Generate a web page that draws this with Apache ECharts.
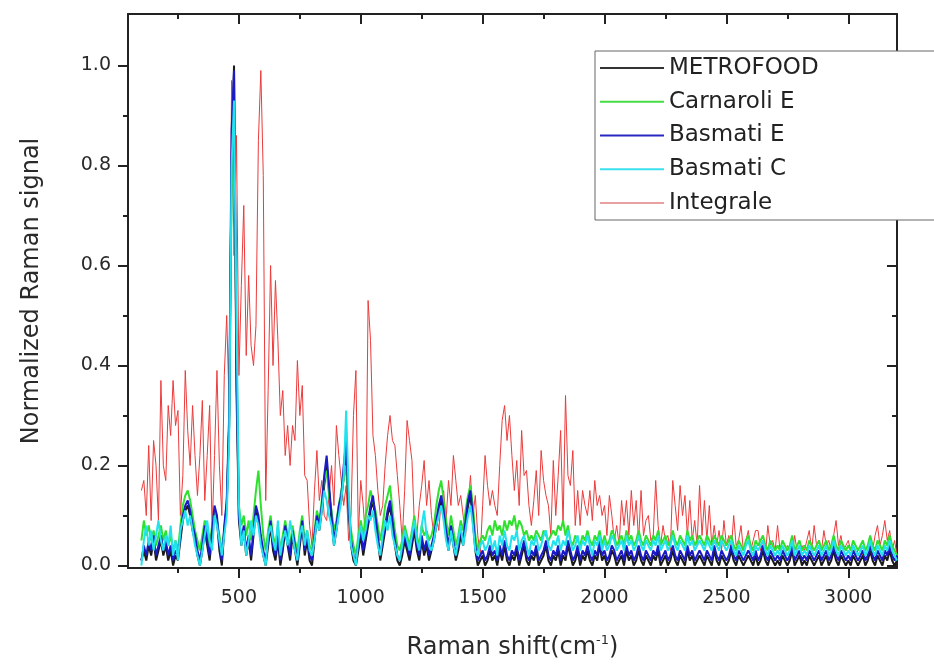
<!DOCTYPE html>
<html><head><meta charset="utf-8">
<script src="https://cdn.jsdelivr.net/npm/echarts@6/dist/echarts.min.js"></script>
<style>html,body{margin:0;padding:0;background:#fff}#c{width:934px;height:664px}</style>
</head><body><div id="c"></div>
<script>
// Raman shift grid (cm-1): 100 .. 3200, sampling step 10
const shiftStart = 100, shiftStep = 10, shiftCount = 311;
const shift = [];
for (let i = 0; i < shiftCount; i++) shift.push(shiftStart + shiftStep * i);

const seriesNames = ['METROFOOD', 'Carnaroli E', 'Basmati E', 'Basmati C', 'Integrale'];
const xMajorTicks = [500, 1000, 1500, 2000, 2500, 3000];
const xMinorTicks = [250, 750, 1250, 1750, 2250, 2750];
const yMajorTicks = [0, 0.2, 0.4, 0.6, 0.8, 1.0];
const yMinorTicks = [0.1, 0.3, 0.5, 0.7, 0.9];

const integrale = [
0.15,0.17,0.10,0.24,0.09,0.25,0.20,0.09,0.37,0.20,
0.17,0.32,0.26,0.37,0.28,0.31,0.10,0.18,0.39,0.27,
0.20,0.32,0.22,0.14,0.22,0.33,0.13,0.22,0.32,0.07,
0.22,0.39,0.20,0.10,0.38,0.50,0.32,0.97,0.62,0.86,
0.38,0.56,0.72,0.42,0.58,0.44,0.40,0.48,0.85,0.99,
0.78,0.13,0.35,0.60,0.40,0.57,0.45,0.30,0.35,0.22,
0.28,0.20,0.28,0.25,0.41,0.30,0.36,0.18,0.17,0.08,
0.04,0.15,0.23,0.13,0.17,0.10,0.09,0.14,0.20,0.12,
0.28,0.22,0.17,0.12,0.16,0.05,0.10,0.30,0.39,0.06,
0.17,0.12,0.05,0.53,0.45,0.26,0.22,0.15,0.10,0.12,
0.20,0.26,0.30,0.25,0.24,0.18,0.12,0.05,0.15,0.29,
0.25,0.21,0.08,0.06,0.12,0.16,0.21,0.12,0.17,0.10,
0.06,0.10,0.07,0.13,0.15,0.09,0.17,0.12,0.22,0.17,
0.12,0.14,0.10,0.06,0.12,0.18,0.10,0.14,0.06,0.02,
0.12,0.22,0.16,0.12,0.15,0.12,0.10,0.20,0.29,0.32,
0.25,0.30,0.22,0.15,0.21,0.12,0.27,0.18,0.19,0.12,
0.08,0.13,0.19,0.10,0.23,0.17,0.14,0.12,0.06,0.21,
0.10,0.18,0.27,0.08,0.34,0.18,0.16,0.23,0.08,0.15,
0.08,0.15,0.12,0.10,0.15,0.09,0.17,0.12,0.14,0.10,
0.12,0.06,0.14,0.10,0.05,0.08,0.04,0.13,0.08,0.13,
0.06,0.15,0.08,0.13,0.05,0.15,0.06,0.09,0.10,0.05,
0.06,0.17,0.08,0.04,0.08,0.05,0.06,0.03,0.17,0.12,
0.07,0.16,0.10,0.14,0.06,0.13,0.05,0.09,0.04,0.16,
0.06,0.13,0.05,0.12,0.04,0.08,0.04,0.07,0.03,0.09,
0.04,0.06,0.03,0.10,0.04,0.05,0.08,0.03,0.05,0.07,
0.03,0.05,0.07,0.07,0.03,0.05,0.02,0.08,0.04,0.05,
0.03,0.08,0.03,0.04,0.02,0.04,0.03,0.02,0.06,0.03,
0.02,0.04,0.03,0.05,0.07,0.03,0.08,0.04,0.05,0.03,
0.07,0.04,0.05,0.03,0.06,0.09,0.04,0.06,0.03,0.04,
0.05,0.03,0.04,0.02,0.03,0.04,0.02,0.03,0.04,0.02,
0.03,0.06,0.08,0.04,0.06,0.09,0.05,0.07,0.03,0.05,
0.02];

const basmatiE = [
0.01,0.04,0.02,0.05,0.03,0.06,0.02,0.04,0.06,0.03,
0.05,0.02,0.04,0.01,0.03,0.02,0.06,0.10,0.12,0.13,
0.11,0.08,0.06,0.03,0.01,0.04,0.08,0.05,0.02,0.07,
0.12,0.10,0.04,0.01,0.08,0.13,0.30,0.87,0.99,0.40,
0.10,0.05,0.08,0.03,0.06,0.02,0.07,0.12,0.10,0.06,
0.03,0.01,0.05,0.09,0.04,0.02,0.06,0.01,0.04,0.08,
0.05,0.02,0.07,0.04,0.01,0.05,0.09,0.03,0.06,0.02,
0.01,0.06,0.10,0.08,0.12,0.18,0.22,0.16,0.10,0.05,
0.08,0.12,0.14,0.20,0.25,0.12,0.05,0.02,0.01,0.04,
0.07,0.03,0.06,0.09,0.12,0.14,0.10,0.06,0.02,0.05,
0.08,0.11,0.13,0.09,0.05,0.02,0.01,0.03,0.06,0.04,
0.02,0.05,0.08,0.04,0.02,0.06,0.03,0.05,0.02,0.04,
0.06,0.09,0.12,0.14,0.11,0.07,0.04,0.08,0.05,0.02,
0.04,0.07,0.05,0.09,0.13,0.15,0.10,0.04,0.01,0.02,
0.03,0.01,0.02,0.04,0.02,0.03,0.01,0.04,0.02,0.05,
0.02,0.01,0.03,0.02,0.04,0.01,0.03,0.05,0.02,0.01,
0.03,0.02,0.04,0.01,0.02,0.03,0.05,0.02,0.01,0.03,
0.02,0.04,0.01,0.03,0.02,0.05,0.03,0.01,0.02,0.04,
0.01,0.03,0.02,0.04,0.02,0.01,0.03,0.02,0.05,0.02,
0.03,0.01,0.02,0.04,0.03,0.01,0.02,0.03,0.01,0.04,
0.02,0.03,0.01,0.02,0.04,0.02,0.01,0.03,0.02,0.01,
0.03,0.02,0.04,0.01,0.02,0.03,0.01,0.02,0.04,0.02,
0.01,0.03,0.02,0.01,0.04,0.02,0.03,0.01,0.02,0.03,
0.02,0.01,0.03,0.02,0.01,0.04,0.02,0.01,0.03,0.02,
0.01,0.02,0.04,0.02,0.01,0.03,0.02,0.01,0.02,0.03,
0.02,0.01,0.03,0.01,0.02,0.04,0.02,0.01,0.03,0.02,
0.01,0.02,0.01,0.03,0.02,0.01,0.02,0.04,0.01,0.02,
0.03,0.01,0.02,0.01,0.03,0.02,0.01,0.02,0.03,0.01,
0.02,0.03,0.01,0.02,0.04,0.02,0.01,0.03,0.02,0.01,
0.02,0.01,0.03,0.02,0.01,0.02,0.03,0.01,0.02,0.04,
0.02,0.01,0.03,0.02,0.01,0.03,0.02,0.04,0.02,0.01,
0.02];

const basmatiC = [
0.00,0.05,0.08,0.04,0.07,0.03,0.06,0.09,0.05,0.03,
0.06,0.04,0.08,0.02,0.05,0.01,0.07,0.09,0.11,0.08,
0.10,0.07,0.04,0.02,0.00,0.03,0.06,0.09,0.05,0.03,
0.10,0.08,0.05,0.02,0.06,0.10,0.25,0.80,0.93,0.50,
0.12,0.04,0.07,0.02,0.05,0.09,0.06,0.10,0.08,0.04,
0.02,0.00,0.06,0.08,0.05,0.03,0.09,0.02,0.05,0.07,
0.04,0.09,0.06,0.03,0.01,0.06,0.08,0.04,0.07,0.03,
0.02,0.05,0.09,0.07,0.11,0.15,0.13,0.10,0.08,0.04,
0.07,0.10,0.13,0.18,0.31,0.15,0.04,0.02,0.00,0.05,
0.08,0.05,0.07,0.10,0.09,0.11,0.07,0.04,0.02,0.06,
0.09,0.07,0.10,0.06,0.04,0.02,0.01,0.04,0.07,0.05,
0.03,0.06,0.09,0.05,0.03,0.08,0.11,0.06,0.04,0.03,
0.05,0.08,0.10,0.12,0.09,0.05,0.03,0.07,0.04,0.02,
0.05,0.08,0.04,0.07,0.10,0.12,0.08,0.03,0.02,0.04,
0.05,0.03,0.04,0.06,0.03,0.05,0.02,0.06,0.04,0.07,
0.04,0.03,0.06,0.05,0.07,0.03,0.05,0.06,0.04,0.02,
0.05,0.04,0.06,0.03,0.04,0.06,0.07,0.04,0.03,0.05,
0.04,0.06,0.03,0.05,0.04,0.07,0.05,0.03,0.04,0.06,
0.03,0.05,0.04,0.06,0.04,0.02,0.05,0.04,0.06,0.03,
0.05,0.03,0.04,0.06,0.05,0.03,0.04,0.05,0.03,0.06,
0.04,0.05,0.03,0.04,0.06,0.04,0.03,0.05,0.04,0.03,
0.05,0.04,0.06,0.03,0.04,0.05,0.03,0.04,0.06,0.04,
0.03,0.05,0.04,0.03,0.06,0.04,0.05,0.03,0.04,0.05,
0.04,0.03,0.05,0.04,0.03,0.05,0.04,0.03,0.05,0.04,
0.03,0.04,0.05,0.03,0.02,0.04,0.03,0.02,0.04,0.05,
0.03,0.02,0.04,0.03,0.04,0.05,0.03,0.02,0.04,0.03,
0.02,0.03,0.02,0.04,0.03,0.02,0.03,0.05,0.02,0.03,
0.04,0.02,0.03,0.02,0.04,0.03,0.02,0.03,0.04,0.02,
0.03,0.04,0.02,0.03,0.05,0.03,0.02,0.04,0.03,0.02,
0.03,0.02,0.04,0.03,0.02,0.03,0.04,0.02,0.03,0.05,
0.03,0.02,0.04,0.03,0.02,0.04,0.03,0.05,0.03,0.02,
0.01];

const carnaroliE = [
0.05,0.09,0.06,0.08,0.05,0.07,0.04,0.06,0.08,0.05,
0.07,0.04,0.06,0.03,0.05,0.03,0.08,0.12,0.14,0.15,
0.13,0.10,0.07,0.05,0.03,0.06,0.09,0.07,0.04,0.08,
0.11,0.09,0.06,0.03,0.07,0.12,0.28,0.75,0.85,0.45,
0.12,0.08,0.10,0.06,0.09,0.05,0.10,0.15,0.19,0.12,
0.06,0.03,0.07,0.10,0.06,0.04,0.08,0.03,0.06,0.09,
0.06,0.04,0.08,0.05,0.03,0.07,0.10,0.05,0.07,0.04,
0.03,0.07,0.11,0.09,0.13,0.17,0.19,0.14,0.11,0.07,
0.09,0.12,0.15,0.17,0.20,0.13,0.07,0.04,0.02,0.06,
0.09,0.06,0.10,0.12,0.15,0.13,0.11,0.08,0.05,0.08,
0.12,0.14,0.16,0.11,0.07,0.04,0.03,0.05,0.08,0.06,
0.04,0.07,0.10,0.06,0.04,0.08,0.06,0.07,0.05,0.06,
0.08,0.12,0.15,0.17,0.13,0.09,0.06,0.10,0.07,0.04,
0.06,0.09,0.07,0.11,0.14,0.16,0.12,0.06,0.03,0.05,
0.06,0.05,0.07,0.08,0.06,0.09,0.07,0.08,0.06,0.09,
0.07,0.09,0.08,0.10,0.07,0.09,0.08,0.06,0.07,0.05,
0.06,0.05,0.07,0.06,0.05,0.07,0.06,0.05,0.06,0.07,
0.06,0.08,0.07,0.09,0.06,0.08,0.05,0.04,0.06,0.05,
0.04,0.06,0.05,0.07,0.05,0.04,0.06,0.05,0.07,0.04,
0.06,0.04,0.05,0.07,0.06,0.04,0.05,0.06,0.04,0.07,
0.05,0.06,0.04,0.05,0.07,0.05,0.04,0.06,0.05,0.04,
0.06,0.05,0.07,0.04,0.05,0.06,0.04,0.05,0.07,0.05,
0.04,0.06,0.05,0.04,0.07,0.05,0.06,0.04,0.05,0.06,
0.05,0.04,0.06,0.05,0.04,0.06,0.05,0.04,0.06,0.05,
0.04,0.05,0.06,0.04,0.03,0.05,0.04,0.03,0.05,0.06,
0.04,0.03,0.05,0.04,0.05,0.06,0.04,0.03,0.05,0.04,
0.03,0.04,0.03,0.05,0.04,0.03,0.04,0.06,0.03,0.04,
0.05,0.03,0.04,0.03,0.05,0.04,0.03,0.04,0.05,0.03,
0.04,0.05,0.03,0.04,0.06,0.04,0.03,0.05,0.04,0.03,
0.04,0.03,0.05,0.04,0.03,0.04,0.05,0.03,0.04,0.06,
0.04,0.03,0.05,0.04,0.03,0.05,0.04,0.06,0.04,0.03,
0.02];

const metrofood = [
0.01,0.03,0.01,0.04,0.02,0.05,0.01,0.03,0.05,0.02,
0.04,0.01,0.03,0.00,0.02,0.01,0.05,0.09,0.11,0.12,
0.10,0.07,0.05,0.02,0.00,0.03,0.07,0.04,0.01,0.06,
0.11,0.09,0.03,0.00,0.07,0.12,0.28,0.80,1.00,0.35,
0.09,0.04,0.07,0.02,0.05,0.01,0.06,0.11,0.09,0.05,
0.02,0.00,0.04,0.08,0.03,0.01,0.05,0.00,0.03,0.07,
0.04,0.01,0.06,0.03,0.00,0.04,0.08,0.02,0.05,0.01,
0.00,0.05,0.09,0.07,0.11,0.16,0.20,0.15,0.09,0.04,
0.07,0.11,0.13,0.18,0.23,0.11,0.04,0.01,0.00,0.03,
0.06,0.02,0.05,0.08,0.11,0.13,0.09,0.05,0.01,0.04,
0.07,0.10,0.12,0.08,0.04,0.01,0.00,0.02,0.05,0.03,
0.01,0.04,0.07,0.03,0.01,0.05,0.02,0.04,0.01,0.03,
0.05,0.08,0.11,0.13,0.10,0.06,0.03,0.07,0.04,0.01,
0.03,0.06,0.04,0.08,0.12,0.14,0.09,0.03,0.00,0.01,
0.02,0.00,0.01,0.03,0.01,0.02,0.00,0.03,0.01,0.04,
0.01,0.00,0.02,0.01,0.03,0.00,0.02,0.04,0.01,0.00,
0.02,0.01,0.03,0.00,0.01,0.02,0.04,0.01,0.00,0.02,
0.01,0.03,0.00,0.02,0.01,0.04,0.02,0.00,0.01,0.03,
0.00,0.02,0.01,0.03,0.01,0.00,0.02,0.01,0.04,0.01,
0.02,0.00,0.01,0.03,0.02,0.00,0.01,0.02,0.00,0.03,
0.01,0.02,0.00,0.01,0.03,0.01,0.00,0.02,0.01,0.00,
0.02,0.01,0.03,0.00,0.01,0.02,0.00,0.01,0.03,0.01,
0.00,0.02,0.01,0.00,0.03,0.01,0.02,0.00,0.01,0.02,
0.01,0.00,0.02,0.01,0.00,0.03,0.01,0.00,0.02,0.01,
0.00,0.01,0.03,0.01,0.00,0.02,0.01,0.00,0.01,0.02,
0.01,0.00,0.02,0.00,0.01,0.03,0.01,0.00,0.02,0.01,
0.00,0.01,0.00,0.02,0.01,0.00,0.01,0.03,0.00,0.01,
0.02,0.00,0.01,0.00,0.02,0.01,0.00,0.01,0.02,0.00,
0.01,0.02,0.00,0.01,0.03,0.01,0.00,0.02,0.01,0.00,
0.01,0.00,0.02,0.01,0.00,0.01,0.02,0.00,0.01,0.03,
0.01,0.00,0.02,0.01,0.00,0.02,0.01,0.03,0.01,0.00,
0.01];

const colors = {
  'METROFOOD': '#1a1a1a',
  'Carnaroli E': '#2fe02f',
  'Basmati E': '#1a1ac8',
  'Basmati C': '#22e2ee',
  'Integrale': '#ec3b3b'
};
const valuesByName = {
  'METROFOOD': metrofood, 'Carnaroli E': carnaroliE, 'Basmati E': basmatiE,
  'Basmati C': basmatiC, 'Integrale': integrale
};

const FONT = 'DejaVu Sans';
const xMin = 45, xMax = 3200, yMin = -0.005, yMax = 1.103;

function xAx(pos, ticks, len, inside, showLine, labels) {
  return {
    type: 'value', position: pos, min: xMin, max: xMax,
    axisLine: { show: showLine, onZero: false, lineStyle: { color: '#222', width: 2 } },
    axisTick: { show: true, inside: inside, length: len, customValues: ticks, lineStyle: { color: '#222', width: 2 } },
    axisLabel: labels ? { show: true, customValues: xMajorTicks, fontFamily: FONT, fontSize: 19, color: '#2a2a2a', margin: 21,
      formatter: v => String(v) } : { show: false },
    splitLine: { show: false }
  };
}
function yAx(pos, ticks, len, inside, showLine, labels) {
  return {
    type: 'value', position: pos, min: yMin, max: yMax,
    axisLine: { show: showLine, onZero: false, lineStyle: { color: '#222', width: 2 } },
    axisTick: { show: true, inside: inside, length: len, customValues: ticks, lineStyle: { color: '#222', width: 2 } },
    axisLabel: labels ? { show: true, customValues: yMajorTicks, fontFamily: FONT, fontSize: 19, color: '#2a2a2a', margin: 17,
      formatter: v => v.toFixed(1) } : { show: false },
    splitLine: { show: false }
  };
}

const xAxes = [
  xAx('bottom', xMajorTicks, 10, false, true, true),
  xAx('bottom', xMinorTicks, 5, false, false, false),
  xAx('top', xMajorTicks, 10, true, true, false),
  xAx('top', xMinorTicks, 5, true, false, false)
];
xAxes[0].name = '{a|Raman shift(cm}{s|-1}{a|)}';
xAxes[0].nameLocation = 'middle';
xAxes[0].nameGap = 66;
xAxes[0].nameTextStyle = { rich: {
  a: { fontFamily: FONT, fontSize: 24, color: '#2a2a2a' },
  s: { fontFamily: FONT, fontSize: 13, color: '#2a2a2a', padding: [0, 0, 15, 0] }
} };

const yAxes = [
  yAx('left', yMajorTicks, 10, false, true, true),
  yAx('left', yMinorTicks, 5, false, false, false),
  yAx('right', yMajorTicks, 10, true, true, false),
  yAx('right', yMinorTicks, 5, true, false, false)
];
yAxes[0].name = 'Normalized Raman signal';
yAxes[0].nameLocation = 'middle';
yAxes[0].nameGap = 84;
yAxes[0].nameTextStyle = { fontFamily: FONT, fontSize: 24, color: '#2a2a2a' };

const drawOrder = ['Integrale', 'METROFOOD', 'Carnaroli E', 'Basmati E', 'Basmati C'];
const series = drawOrder.map(name => ({
  name: name, type: 'line', xAxisIndex: 0, yAxisIndex: 0,
  data: shift.map((s, i) => [s, valuesByName[name][i]]),
  symbol: 'none', showSymbol: false, smooth: false,
  lineStyle: { color: colors[name], width: name === 'Integrale' ? 1 : 2 },
  itemStyle: { color: colors[name] },
  emphasis: { disabled: true }
}));

const legendLine = {
  'METROFOOD': { color: '#333' },
  'Carnaroli E': { color: '#44dd44' },
  'Basmati E': { color: '#2828c0' },
  'Basmati C': { color: '#3ae0ee' },
  'Integrale': { color: '#e8a0a0' }
};

const chart = echarts.init(document.getElementById('c'), null, { renderer: 'canvas' });
chart.setOption({
  animation: false,
  backgroundColor: '#fff',
  grid: { left: 128, right: 37, top: 14, bottom: 96, containLabel: false, outerBoundsMode: 'none' },
  xAxis: xAxes,
  yAxis: yAxes,
  legend: {
    orient: 'vertical', left: 595, top: 51,
    padding: [5, 160, 5, 5],
    itemWidth: 64, itemHeight: 14, itemGap: 9.75,
    backgroundColor: '#fff', borderColor: '#666', borderWidth: 1,
    data: seriesNames.map(n => ({ name: n, icon: 'path://M0,6 L64,6 L64,8 L0,8 Z', itemStyle: { color: legendLine[n].color } })),
    textStyle: { fontFamily: FONT, fontSize: 23, color: '#222', lineHeight: 24 },
    selectedMode: false
  },
  series: series
});
</script></body></html>
